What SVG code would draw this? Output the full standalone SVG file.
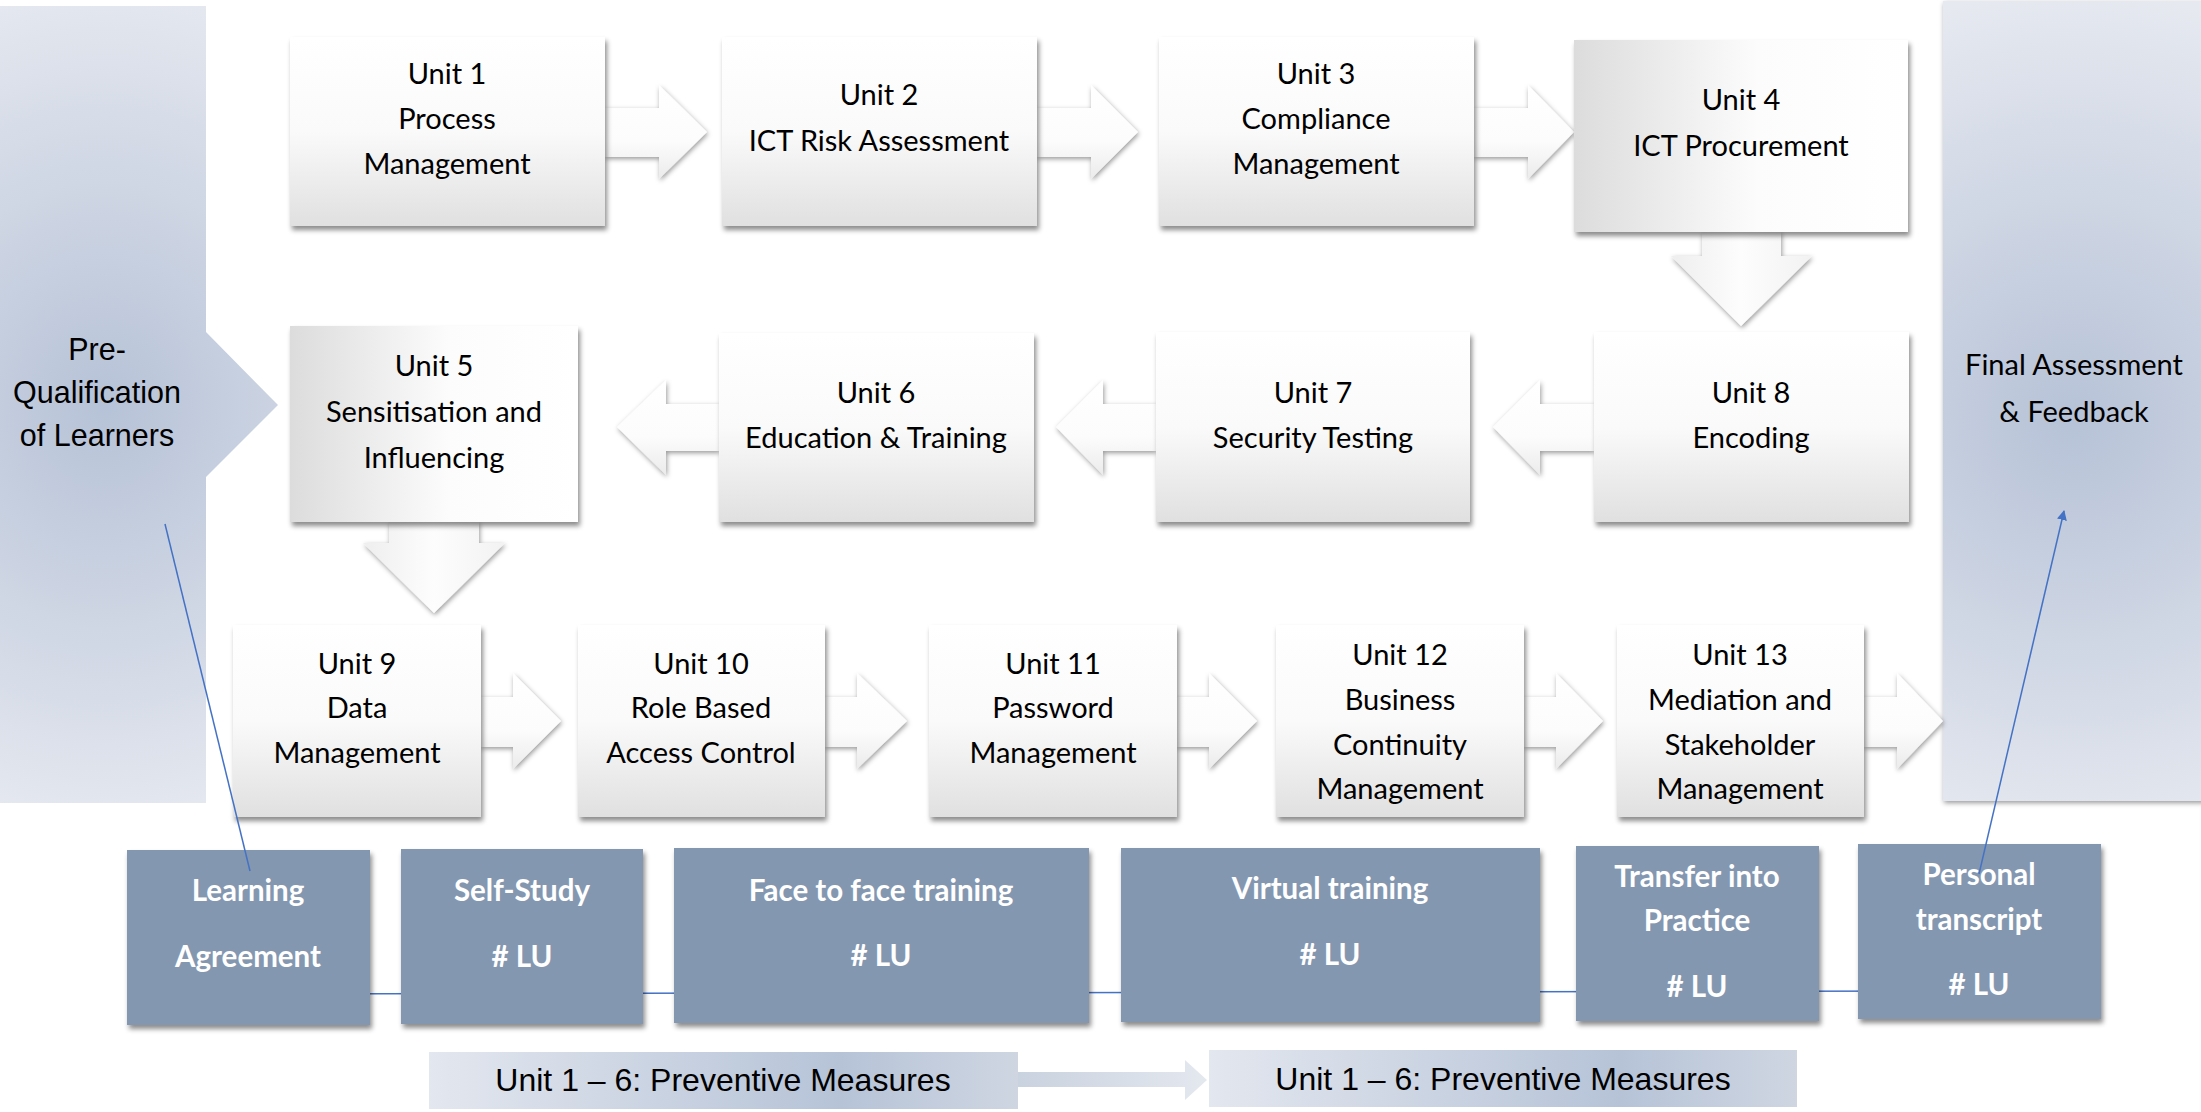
<svg xmlns="http://www.w3.org/2000/svg" width="2201" height="1112" viewBox="0 0 2201 1112">
<style>
.u{font-family:Lato,"Liberation Sans",sans-serif;font-size:29px;fill:#000;text-anchor:middle}
.b{font-family:Lato,"Liberation Sans",sans-serif;font-size:29.5px;font-weight:bold;fill:#fff;text-anchor:middle}
.a{font-family:"Liberation Sans",Arial,sans-serif;font-size:30.5px;fill:#000;text-anchor:middle}
.m{font-family:"Liberation Sans",Arial,sans-serif;font-size:32px;fill:#000;text-anchor:middle}
.box{fill:url(#gv);filter:url(#sh)}
.boxh{fill:url(#gh);filter:url(#sh)}
.arr{fill:url(#gav);filter:url(#sha)}
.arrd{fill:url(#gah);filter:url(#sha)}
.blue{fill:#8497b0;filter:url(#sh)}
.ln{stroke:#4472c4;stroke-width:1.5;fill:none}
</style>
<defs>
<linearGradient id="gv" x1="0" y1="0" x2="0" y2="1">
<stop offset="0" stop-color="#ffffff"/><stop offset="0.5" stop-color="#fafafa"/><stop offset="1" stop-color="#e0e0e0"/>
</linearGradient>
<linearGradient id="gh" x1="0" y1="0" x2="1" y2="0">
<stop offset="0" stop-color="#dcdcdc"/><stop offset="0.55" stop-color="#fcfcfc"/><stop offset="1" stop-color="#ffffff"/>
</linearGradient>
<linearGradient id="gav" x1="0" y1="0" x2="0" y2="1">
<stop offset="0" stop-color="#ffffff"/><stop offset="0.6" stop-color="#fcfcfc"/><stop offset="1" stop-color="#ebebeb"/>
</linearGradient>
<linearGradient id="gah" x1="0" y1="0" x2="1" y2="0">
<stop offset="0" stop-color="#eeeeee"/><stop offset="0.5" stop-color="#fdfdfd"/><stop offset="1" stop-color="#f2f2f2"/>
</linearGradient>
<radialGradient id="pl" gradientUnits="userSpaceOnUse" cx="105" cy="405" r="430" gradientTransform="translate(105 405) scale(0.9 1) translate(-105 -405)">
<stop offset="0" stop-color="#b6c2d7"/><stop offset="1" stop-color="#e6e9f0"/>
</radialGradient>
<radialGradient id="pr" gradientUnits="userSpaceOnUse" cx="2072" cy="420" r="430">
<stop offset="0" stop-color="#b6c2d7"/><stop offset="1" stop-color="#e6e9f0"/>
</radialGradient>
<linearGradient id="gb" x1="0" y1="0" x2="1" y2="0">
<stop offset="0" stop-color="#e3e7ef"/><stop offset="0.7" stop-color="#b6c3d7"/><stop offset="1" stop-color="#cfd6e2"/>
</linearGradient>
<linearGradient id="gba" x1="0" y1="0" x2="1" y2="0">
<stop offset="0" stop-color="#c9d2df"/><stop offset="1" stop-color="#e4e8ef"/>
</linearGradient>
<filter id="sh" x="-10%" y="-10%" width="125%" height="130%">
<feDropShadow dx="2" dy="4" stdDeviation="2.5" flood-color="#000" flood-opacity="0.45"/>
</filter>
<filter id="sha" x="-15%" y="-15%" width="135%" height="135%">
<feDropShadow dx="1" dy="2" stdDeviation="2.5" flood-color="#000" flood-opacity="0.4"/>
</filter>
<marker id="mh" viewBox="0 0 10 10" refX="9" refY="5" markerWidth="10" markerHeight="10" markerUnits="userSpaceOnUse" orient="auto">
<path d="M0,0 L10,5 L0,10 z" fill="#4472c4"/>
</marker>
</defs>
<rect width="2201" height="1112" fill="#fff"/>

<g id="pre-qualification">
<polygon points="0,6 206,6 206,332 278,405 206,477 206,803 0,803" fill="url(#pl)"/>
<text class="a" x="97" y="360">Pre-</text>
<text class="a" x="97" y="403">Qualification</text>
<text class="a" x="97" y="446">of Learners</text>
</g>
<g id="final-assessment">
<rect x="1943" y="1" width="262" height="800" fill="url(#pr)" filter="url(#sha)"/>
<text class="u" x="2074" y="375">Final Assessment</text>
<text class="u" x="2074" y="422">&amp; Feedback</text>
</g>

<g id="connectors">
<polygon class="arr" points="605,108 659,108 659,85 707,132 659,179 659,157 605,157"/>
<polygon class="arr" points="1037,108 1091,108 1091,85 1138,132 1091,179 1091,157 1037,157"/>
<polygon class="arr" points="1474,108 1528,108 1528,85 1574,132 1528,179 1528,157 1474,157"/>
<polygon class="arrd" points="1702,232 1781,232 1781,256 1812,256 1741,326 1671,256 1702,256"/>
<polygon class="arr" points="1594,404 1540,404 1540,380 1493,427 1540,475 1540,451 1594,451"/>
<polygon class="arr" points="1156,404 1103,404 1103,380 1056,427 1103,475 1103,451 1156,451"/>
<polygon class="arr" points="719,404 666,404 666,380 617,427 666,475 666,451 719,451"/>
<polygon class="arrd" points="389,522 479,522 479,543 505,543 434,613 363,543 389,543"/>
<polygon class="arr" points="481,697 513,697 513,673 561,721 513,769 513,747 481,747"/>
<polygon class="arr" points="825,697 857,697 857,673 907,721 857,769 857,747 825,747"/>
<polygon class="arr" points="1177,697 1209,697 1209,673 1257,721 1209,769 1209,747 1177,747"/>
<polygon class="arr" points="1524,697 1556,697 1556,673 1603,721 1556,769 1556,747 1524,747"/>
<polygon class="arr" points="1864,697 1897,697 1897,673 1943,721 1897,769 1897,747 1864,747"/>
<line class="ln" x1="250" y1="994" x2="1979" y2="991"/>
<polygon points="1018,1072 1185,1072 1185,1060 1207,1080 1185,1100 1185,1087 1018,1087" fill="url(#gba)"/>
</g>

<g id="unit1"><rect class="box" x="290" y="37" width="315" height="189"/>
<text class="u" x="447" y="84">Unit 1</text><text class="u" x="447" y="129">Process</text><text class="u" x="447" y="174">Management</text></g>
<g id="unit2"><rect class="box" x="722" y="37" width="315" height="189"/>
<text class="u" x="879" y="105">Unit 2</text><text class="u" x="879" y="151">ICT Risk Assessment</text></g>
<g id="unit3"><rect class="box" x="1159" y="37" width="315" height="189"/>
<text class="u" x="1316" y="84">Unit 3</text><text class="u" x="1316" y="129">Compliance</text><text class="u" x="1316" y="174">Management</text></g>
<g id="unit4"><rect class="boxh" x="1574" y="40" width="334" height="192"/>
<text class="u" x="1741" y="110">Unit 4</text><text class="u" x="1741" y="156">ICT Procurement</text></g>
<g id="unit5"><rect class="boxh" x="290" y="326" width="288" height="196"/>
<text class="u" x="434" y="376">Unit 5</text><text class="u" x="434" y="422">Sensitisation and</text><text class="u" x="434" y="468">Influencing</text></g>
<g id="unit6"><rect class="box" x="719" y="333" width="315" height="189"/>
<text class="u" x="876" y="403">Unit 6</text><text class="u" x="876" y="448">Education &amp; Training</text></g>
<g id="unit7"><rect class="box" x="1156" y="332" width="314" height="190"/>
<text class="u" x="1313" y="403">Unit 7</text><text class="u" x="1313" y="448">Security Testing</text></g>
<g id="unit8"><rect class="box" x="1594" y="332" width="315" height="190"/>
<text class="u" x="1751" y="403">Unit 8</text><text class="u" x="1751" y="448">Encoding</text></g>
<g id="unit9"><rect class="box" x="233" y="625" width="248" height="192"/>
<text class="u" x="357" y="674">Unit 9</text><text class="u" x="357" y="718">Data</text><text class="u" x="357" y="763">Management</text></g>
<g id="unit10"><rect class="box" x="578" y="625" width="247" height="192"/>
<text class="u" x="701" y="674">Unit 10</text><text class="u" x="701" y="718">Role Based</text><text class="u" x="701" y="763">Access Control</text></g>
<g id="unit11"><rect class="box" x="929" y="625" width="248" height="192"/>
<text class="u" x="1053" y="674">Unit 11</text><text class="u" x="1053" y="718">Password</text><text class="u" x="1053" y="763">Management</text></g>
<g id="unit12"><rect class="box" x="1276" y="625" width="248" height="192"/>
<text class="u" x="1400" y="665">Unit 12</text><text class="u" x="1400" y="710">Business</text><text class="u" x="1400" y="755">Continuity</text><text class="u" x="1400" y="799">Management</text></g>
<g id="unit13"><rect class="box" x="1617" y="625" width="247" height="192"/>
<text class="u" x="1740" y="665">Unit 13</text><text class="u" x="1740" y="710">Mediation and</text><text class="u" x="1740" y="755">Stakeholder</text><text class="u" x="1740" y="799">Management</text></g>

<g id="learning-agreement"><rect class="blue" x="127" y="850" width="243" height="175"/>
<text class="b" x="248" y="901">Learning</text><text class="b" x="248" y="967">Agreement</text></g>
<g id="self-study"><rect class="blue" x="401" y="849" width="242" height="175"/>
<text class="b" x="522" y="901">Self-Study</text><text class="b" x="522" y="967"># LU</text></g>
<g id="face-to-face"><rect class="blue" x="674" y="848" width="415" height="175"/>
<text class="b" x="881" y="901">Face to face training</text><text class="b" x="881" y="966"># LU</text></g>
<g id="virtual-training"><rect class="blue" x="1121" y="848" width="419" height="174"/>
<text class="b" x="1330" y="899">Virtual training</text><text class="b" x="1330" y="965"># LU</text></g>
<g id="transfer"><rect class="blue" x="1576" y="846" width="243" height="175"/>
<text class="b" x="1697" y="887">Transfer into</text><text class="b" x="1697" y="931">Practice</text><text class="b" x="1697" y="997"># LU</text></g>
<g id="personal-transcript"><rect class="blue" x="1858" y="844" width="243" height="175"/>
<text class="b" x="1979" y="885">Personal</text><text class="b" x="1979" y="930">transcript</text><text class="b" x="1979" y="995"># LU</text></g>

<g id="links">
<line class="ln" x1="165" y1="524" x2="250" y2="871"/>
<line class="ln" x1="1979" y1="874" x2="2064" y2="511" marker-end="url(#mh)"/>
</g>

<g id="preventive-1"><rect x="429" y="1052" width="589" height="57" fill="url(#gb)"/>
<text class="m" x="723" y="1091">Unit 1 – 6: Preventive Measures</text></g>
<g id="preventive-2"><rect x="1209" y="1050" width="588" height="57" fill="url(#gb)"/>
<text class="m" x="1503" y="1090">Unit 1 – 6: Preventive Measures</text></g>
</svg>
